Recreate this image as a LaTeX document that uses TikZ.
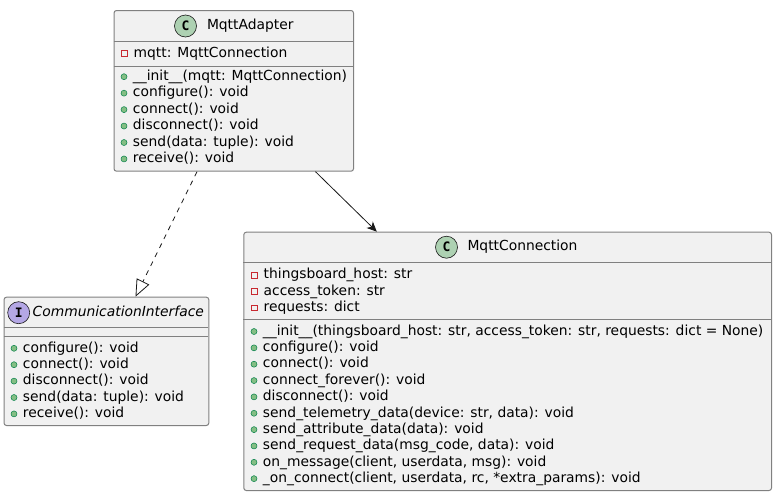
\documentclass[tikz,border=0pt]{standalone}
\usepackage{fontspec}
\setmainfont{DejaVu Sans}
\newfontfamily\iconfont{DejaVu Sans Mono}
\usetikzlibrary{arrows.meta}
\usetikzlibrary{positioning}

\definecolor{boxfill}{HTML}{F1F1F1}
\definecolor{boxline}{HTML}{808080}
\definecolor{inkline}{HTML}{181818}
\definecolor{classicon}{HTML}{ADD1B2}
\definecolor{ifaceicon}{HTML}{B4A7E5}
\definecolor{privred}{HTML}{C82930}
\definecolor{pubfill}{HTML}{84BE84}
\definecolor{publine}{HTML}{038048}

\tikzset{
	classbox/.style={draw=boxline, fill=boxfill, line width=1pt, rounded corners=2.5pt, anchor=north west, inner sep=0pt},
	sepline/.style={draw=boxline, line width=1pt},
	kindicon/.style={circle, draw=inkline, line width=0.6pt, minimum size=22pt, inner sep=0pt, font=\iconfont\fontsize{13}{13}\selectfont\bfseries},
	title/.style={inner sep=0pt, font=\fontsize{13.85}{16}\selectfont, text height=10.5pt, text depth=3pt},
	member/.style={inner sep=0pt, font=\fontsize{13.85}{16}\selectfont, text height=10.5pt, text depth=3pt},
	pubdot/.style={circle, fill=pubfill, draw=publine, line width=0.5pt, minimum size=6pt, inner sep=0pt},
	privbox/.style={rectangle, draw=privred, line width=0.8pt, minimum size=5.6pt, inner sep=0pt},
	realize/.style={draw=inkline, line width=0.8pt, dash pattern=on 5pt off 5pt, -{Triangle[open, length=17pt, width=14pt]}},
	assoc/.style={draw=inkline, line width=0.8pt, -{Stealth[length=10pt, width=9pt, inset=3pt]}}
}

\begin{document}
\begin{tikzpicture}[x=1pt, y=-1pt]
	\useasboundingbox (0,0) rectangle (776,493);

	% MqttAdapter
	\node[classbox, minimum width=239.5pt, minimum height=160.7pt] (adapter) at (113.5,10) {};
	\draw[sepline] (113.5,41) -- (353,41);
	\draw[sepline] (113.5,66) -- (353,66);
	\node[kindicon, fill=classicon] (adaptericon) at (185.5,26) {C};
	\node[title, right=10pt of adaptericon] (adaptername) {MqttAdapter};
	\node[privbox] (ap1) at (124.3,53.5) {};
	\node[member, right=6pt of ap1] (apt1) {mqtt: MqttConnection};
	\foreach \txt [count=\i] in {{\_\_init\_\_(mqtt: MqttConnection)}, {configure(): void}, {connect(): void}, {disconnect(): void}, {send(data: tuple): void}, {receive(): void}}
	{
		\node[pubdot] (am\i) at (124,{76.7+16.45*(\i-1)}) {};
		\node[member, right=5.5pt of am\i] (amt\i) {\txt};
	}

	% CommunicationInterface
	\node[classbox, minimum width=204.8pt, minimum height=128.3pt] (iface) at (3.5,296.7) {};
	\draw[sepline] (3.5,327.7) -- (208.3,327.7);
	\draw[sepline] (3.5,336.7) -- (208.3,336.7);
	\node[kindicon, fill=ifaceicon] (ifaceicon) at (18.7,312.7) {I};
	\node[title, font=\fontsize{13.85}{16}\selectfont\itshape, right=2.5pt of ifaceicon] (ifacename) {CommunicationInterface};
	\foreach \txt [count=\i] in {{configure(): void}, {connect(): void}, {disconnect(): void}, {send(data: tuple): void}, {receive(): void}}
	{
		\node[pubdot] (im\i) at (14,{348.3+16.4*(\i-1)}) {};
		\node[member, right=5.5pt of im\i] (imt\i) {\txt};
	}

	% MqttConnection
	\node[classbox, minimum width=527.7pt, minimum height=258.3pt] (conn) at (243.3,231.7) {};
	\draw[sepline] (243.3,262.7) -- (771,262.7);
	\draw[sepline] (243.3,319.3) -- (771,319.3);
	\node[kindicon, fill=classicon] (connicon) at (446.5,247.2) {C};
	\node[title, right=9.5pt of connicon] (connname) {MqttConnection};
	\foreach \txt [count=\i] in {{thingsboard\_host: str}, {access\_token: str}, {requests: dict}}
	{
		\node[privbox] (cp\i) at (254.3,{275.2+16.35*(\i-1)}) {};
		\node[member, right=6pt of cp\i] (cpt\i) {\txt};
	}
	\foreach \txt [count=\i] in {{\_\_init\_\_(thingsboard\_host: str, access\_token: str, requests: dict = None)}, {configure(): void}, {connect(): void}, {connect\_forever(): void}, {disconnect(): void}, {send\_telemetry\_data(device: str, data): void}, {send\_attribute\_data(data): void}, {send\_request\_data(msg\_code, data): void}, {on\_message(client, userdata, msg): void}, {\_on\_connect(client, userdata, rc, *extra\_params): void}}
	{
		\node[pubdot] (cm\i) at (254,{331.5+16.35*(\i-1)}) {};
		\node[member, right=5.5pt of cm\i] (cmt\i) {\txt};
	}

	% relations
	\draw[realize] ([xshift=83.5pt]adapter.south west) -- ([xshift=132pt]iface.north west);
	\draw[assoc] ([xshift=202pt]adapter.south west) -- ([xshift=133.5pt]conn.north west);
\end{tikzpicture}
\end{document}
